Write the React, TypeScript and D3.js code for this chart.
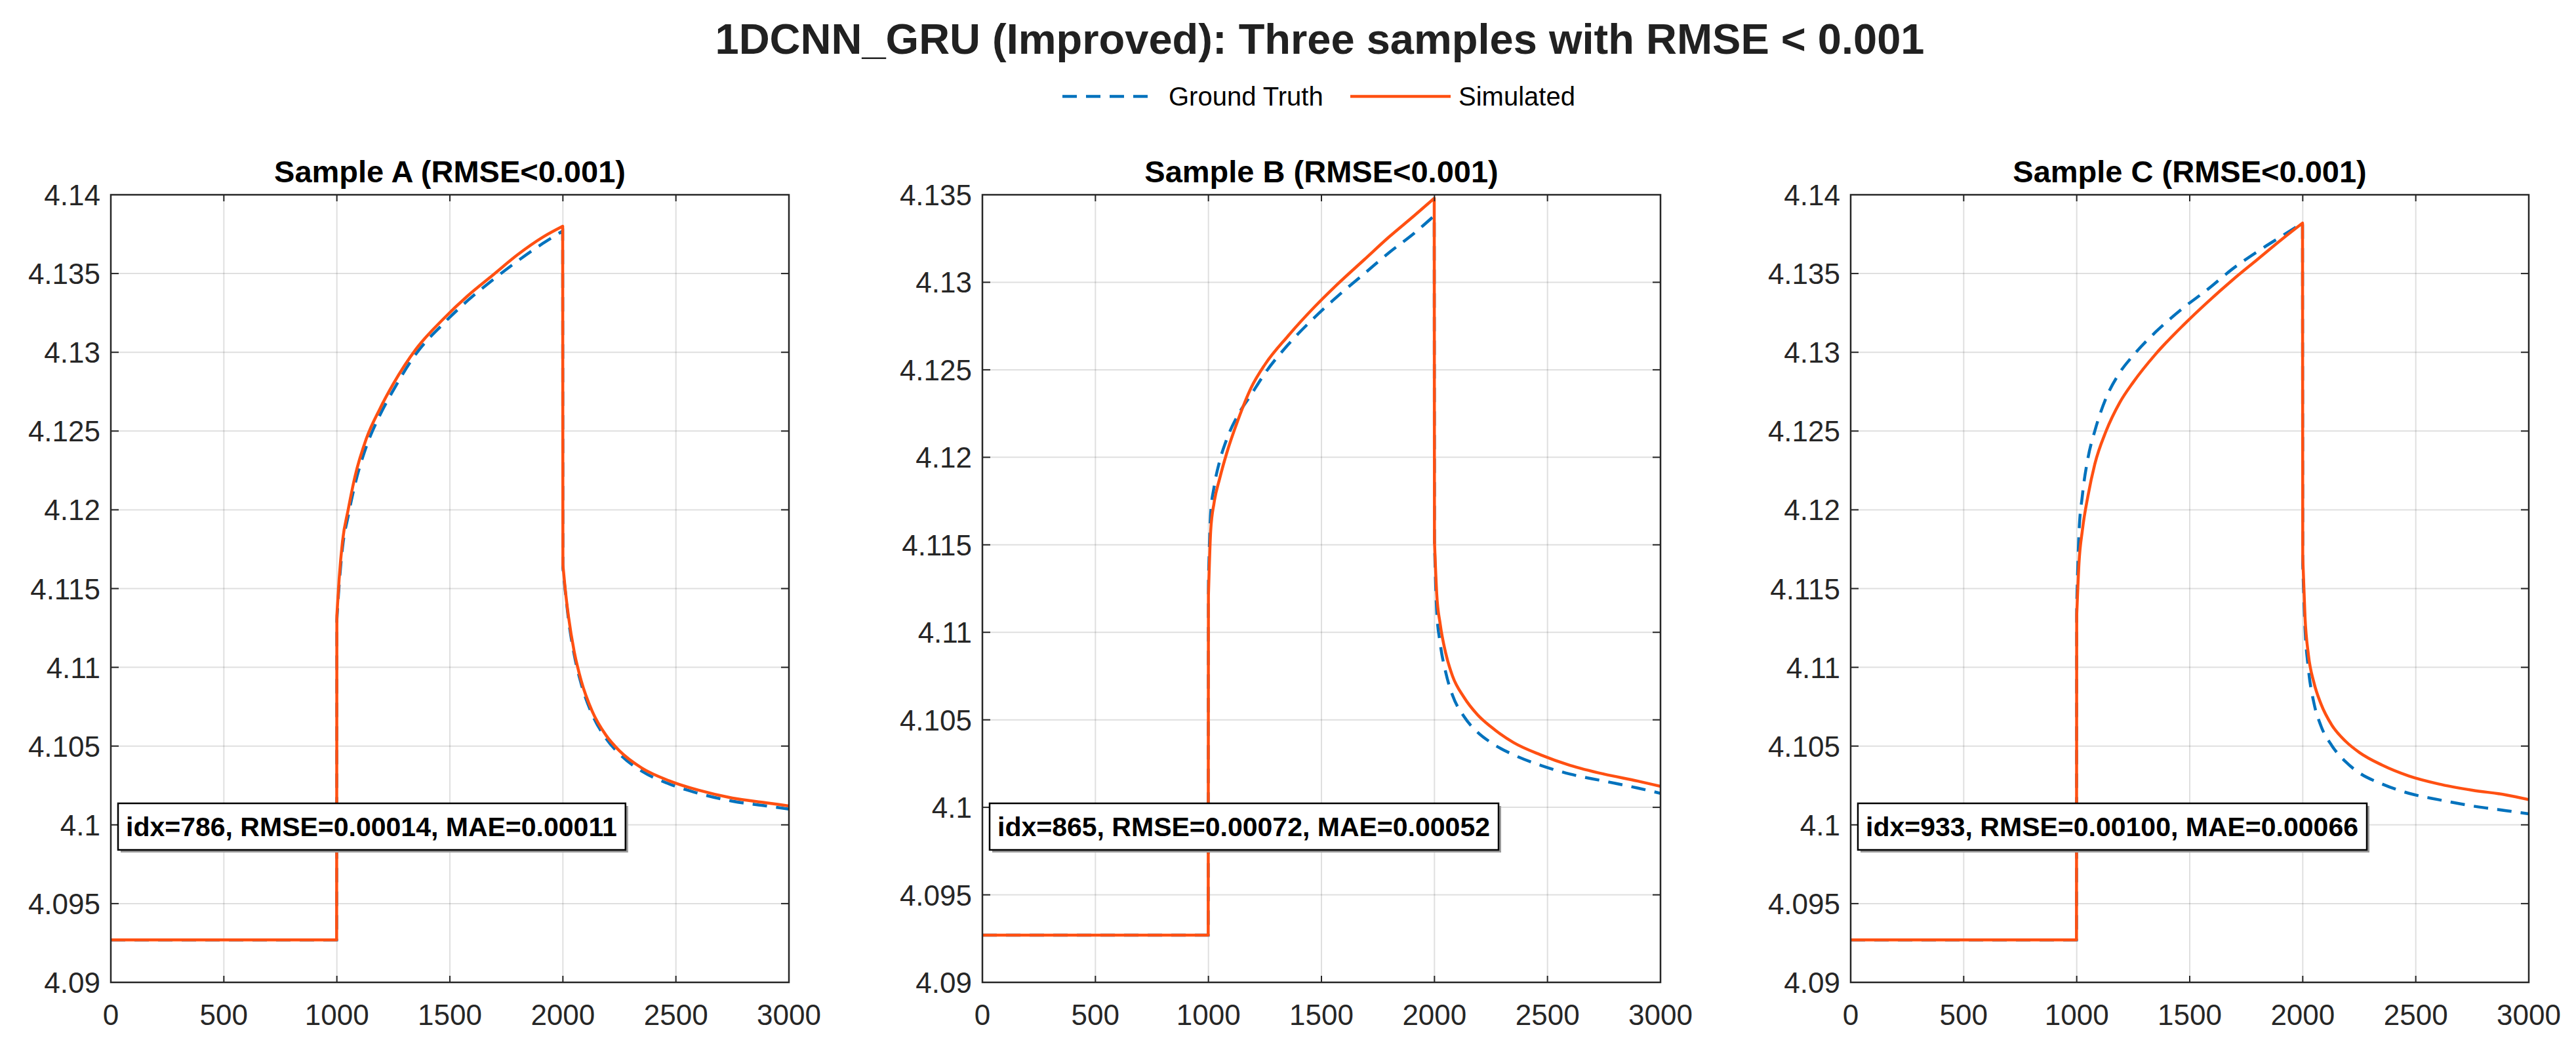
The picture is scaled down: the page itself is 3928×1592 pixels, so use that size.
import { useEffect, useRef } from 'react';
import * as d3 from 'd3';

// Sample index knots shared by every series
const knots = [0, 999, 1000, 1010, 1025, 1050, 1080, 1130, 1190, 1250, 1350, 1470, 1580, 1690, 1800, 1910, 1999,
    2000, 2010, 2025, 2050, 2080, 2130, 2190, 2250, 2350, 2470, 2600, 2750, 2900, 3000];
// current steps happen at these indices (the traces jump there)
const stepStarts = [1000, 2000];

const sampleATruth = [4.0927, 4.0927, 4.1130, 4.1152, 4.1176, 4.1196, 4.1216, 4.1240, 4.1260, 4.1276, 4.1299, 4.1318, 4.1333, 4.1346, 4.1358, 4.1369, 4.1377,
    4.1163, 4.1149, 4.1130, 4.1108, 4.1090, 4.1070, 4.1055, 4.1045, 4.1034, 4.1026, 4.1020, 4.1015, 4.1012, 4.1010];
const sampleASim = [4.0927, 4.0927, 4.1133, 4.1156, 4.1180, 4.1200, 4.1221, 4.1245, 4.1264, 4.1280, 4.1302, 4.1321, 4.1336, 4.1349, 4.1362, 4.1373, 4.1380,
    4.1165, 4.1150, 4.1132, 4.1110, 4.1092, 4.1072, 4.1057, 4.1047, 4.1036, 4.1028, 4.1022, 4.1017, 4.1014, 4.1012];

const sampleBTruth = [4.0927, 4.0927, 4.1130, 4.1168, 4.1183, 4.1198, 4.1210, 4.1224, 4.1236, 4.1248, 4.1264, 4.1280, 4.1293, 4.1305, 4.1317, 4.1328, 4.1338,
    4.1151, 4.1112, 4.1094, 4.1077, 4.1064, 4.1052, 4.1043, 4.1037, 4.1030, 4.1024, 4.1019, 4.1015, 4.1011, 4.1008];
const sampleBSim = [4.0927, 4.0927, 4.1121, 4.1158, 4.1174, 4.1188, 4.1202, 4.1221, 4.1240, 4.1253, 4.1269, 4.1286, 4.1300, 4.1313, 4.1326, 4.1338, 4.1348,
    4.1152, 4.1122, 4.1105, 4.1088, 4.1075, 4.1063, 4.1053, 4.1046, 4.1037, 4.1030, 4.1024, 4.1019, 4.1015, 4.1012];

const sampleCTruth = [4.0927, 4.0927, 4.1140, 4.1185, 4.1209, 4.1233, 4.1250, 4.1271, 4.1287, 4.1298, 4.1313, 4.1328, 4.1340, 4.1353, 4.1364, 4.1374, 4.1382,
    4.1165, 4.1125, 4.1099, 4.1077, 4.1063, 4.1050, 4.1040, 4.1033, 4.1026, 4.1020, 4.1016, 4.1012, 4.1009, 4.1007];
const sampleCSim = [4.0927, 4.0927, 4.1133, 4.1166, 4.1187, 4.1209, 4.1229, 4.1250, 4.1268, 4.1281, 4.1299, 4.1317, 4.1332, 4.1346, 4.1359, 4.1372, 4.1382,
    4.1170, 4.1132, 4.1108, 4.1090, 4.1077, 4.1063, 4.1053, 4.1046, 4.1038, 4.1031, 4.1026, 4.1022, 4.1019, 4.1016];

const panelTitles = ['Sample A (RMSE<0.001)', 'Sample B (RMSE<0.001)', 'Sample C (RMSE<0.001)'];
const panelNotes = ['idx=786, RMSE=0.00014, MAE=0.00011', 'idx=865, RMSE=0.00072, MAE=0.00052', 'idx=933, RMSE=0.00100, MAE=0.00066'];
const yMax = [4.14, 4.135, 4.14];
const yMin = 4.09;
const xTicks = [0, 500, 1000, 1500, 2000, 2500, 3000];
const truthSeries = [sampleATruth, sampleBTruth, sampleCTruth];
const simSeries = [sampleASim, sampleBSim, sampleCSim];
const legendLabels = ['Ground Truth', 'Simulated'];

const W = 3928;
const H = 1592;
const FONT = '"Liberation Sans", Arial, Helvetica, sans-serif';
const AXIS = '#262626';
const BLUE = '#0072BD';
const ORANGE = '#FF5012';

export default function App() {
    const svgRef = useRef<SVGSVGElement>(null);

    useEffect(() => {
        if (!svgRef.current) return;
        const svg = d3.select(svgRef.current);
        svg.selectAll('*').remove();

        svg.append('rect').attr('width', W).attr('height', H).attr('fill', '#fff');

        const lefts = [169, 1498, 2822];
        const pw = 1034;
        const top = 297;
        const bottom = 1498;

        // Super title
        svg.append('text')
            .attr('x', (lefts[0] + lefts[2] + pw) / 2)
            .attr('y', 82)
            .attr('text-anchor', 'middle')
            .attr('font-family', FONT)
            .attr('font-size', 65)
            .attr('font-weight', 700)
            .attr('fill', '#212121')
            .text('1DCNN_GRU (Improved): Three samples with RMSE < 0.001');

        // Legend
        const leg = svg.append('g');
        leg.append('line').attr('x1', 1620).attr('x2', 1760).attr('y1', 147).attr('y2', 147)
            .attr('stroke', BLUE).attr('stroke-width', 4.5).attr('stroke-dasharray', '22 14');
        leg.append('text').attr('x', 1782).attr('y', 147).attr('dy', '0.35em')
            .attr('font-family', FONT).attr('font-size', 40).attr('fill', '#000').text(legendLabels[0]);
        leg.append('line').attr('x1', 2059).attr('x2', 2212).attr('y1', 147).attr('y2', 147)
            .attr('stroke', ORANGE).attr('stroke-width', 4.5);
        leg.append('text').attr('x', 2224).attr('y', 147).attr('dy', '0.35em')
            .attr('font-family', FONT).attr('font-size', 40).attr('fill', '#000').text(legendLabels[1]);

        lefts.forEach((left, i) => {
            const x = d3.scaleLinear().domain([0, 3000]).range([left, left + pw]);
            const y = d3.scaleLinear().domain([yMin, yMax[i]]).range([bottom, top]);
            const yTicks = d3.range(0, Math.round((yMax[i] - yMin) / 0.005) + 1).map(k => +(yMin + k * 0.005).toFixed(3));
            const fmt = d3.format('.3~f');
            const g = svg.append('g');

            // Grid
            g.selectAll('.gx').data(xTicks).join('line')
                .attr('x1', d => x(d)).attr('x2', d => x(d)).attr('y1', top).attr('y2', bottom)
                .attr('stroke', AXIS).attr('stroke-opacity', 0.15).attr('stroke-width', 2);
            g.selectAll('.gy').data(yTicks).join('line')
                .attr('y1', d => y(d)).attr('y2', d => y(d)).attr('x1', left).attr('x2', left + pw)
                .attr('stroke', AXIS).attr('stroke-opacity', 0.15).attr('stroke-width', 2);

            // Clip
            const clipId = `clip-${i}`;
            svg.append('defs').append('clipPath').attr('id', clipId)
                .append('rect').attr('x', left).attr('y', top - 3).attr('width', pw).attr('height', bottom - top + 3);

            const line = d3.line<[number, number]>()
                .x(d => x(d[0]))
                .y(d => y(d[1]))
                .curve(d3.curveMonotoneX);

            // smooth inside each segment, straight vertical jumps between them
            const tracePath = (vals: number[]) => {
                const pts: [number, number][] = knots.map((k, j) => [k, vals[j]]);
                const segs: [number, number][][] = [[]];
                pts.forEach(p => {
                    if (stepStarts.includes(p[0])) segs.push([]);
                    segs[segs.length - 1].push(p);
                });
                return segs.map((s, j) => {
                    const d = line(s)!;
                    return j === 0 ? d : 'L' + d.slice(1);
                }).join('');
            };

            g.append('path').attr('d', tracePath(truthSeries[i]))
                .attr('clip-path', `url(#${clipId})`)
                .attr('fill', 'none').attr('stroke', BLUE).attr('stroke-width', 4.5)
                .attr('stroke-dasharray', '22 14');
            g.append('path').attr('d', tracePath(simSeries[i]))
                .attr('clip-path', `url(#${clipId})`)
                .attr('fill', 'none').attr('stroke', ORANGE).attr('stroke-width', 4.5)
                .attr('stroke-linejoin', 'round');

            // Ticks (inward, both sides)
            xTicks.forEach(t => {
                g.append('line').attr('x1', x(t)).attr('x2', x(t)).attr('y1', bottom).attr('y2', bottom - 10)
                    .attr('stroke', AXIS).attr('stroke-width', 2);
                g.append('line').attr('x1', x(t)).attr('x2', x(t)).attr('y1', top).attr('y2', top + 10)
                    .attr('stroke', AXIS).attr('stroke-width', 2);
                g.append('text').attr('x', x(t)).attr('y', 1563)
                    .attr('text-anchor', 'middle').attr('font-family', FONT).attr('font-size', 44)
                    .attr('fill', AXIS).text(String(t));
            });
            yTicks.forEach(t => {
                g.append('line').attr('x1', left).attr('x2', left + 12).attr('y1', y(t)).attr('y2', y(t))
                    .attr('stroke', AXIS).attr('stroke-width', 2);
                g.append('line').attr('x1', left + pw).attr('x2', left + pw - 12).attr('y1', y(t)).attr('y2', y(t))
                    .attr('stroke', AXIS).attr('stroke-width', 2);
                g.append('text').attr('x', left - 16).attr('y', y(t) + 16)
                    .attr('text-anchor', 'end').attr('font-family', FONT).attr('font-size', 44)
                    .attr('fill', AXIS).text(fmt(t));
            });

            // Box
            g.append('rect').attr('x', left).attr('y', top).attr('width', pw).attr('height', bottom - top)
                .attr('fill', 'none').attr('stroke', AXIS).attr('stroke-width', 2.5);

            // Panel title
            g.append('text').attr('x', left + pw / 2).attr('y', 278)
                .attr('text-anchor', 'middle').attr('font-family', FONT).attr('font-size', 47)
                .attr('font-weight', 700).attr('fill', '#000').text(panelTitles[i]);

            // Annotation box
            const note = g.append('g');
            const bx = left + 11;
            const by = 1225;
            const bh = 71;
            const shadow = note.append('rect');
            const box = note.append('rect');
            const txt = note.append('text').attr('x', bx + 12).attr('y', by + bh / 2 + 14)
                .attr('font-family', FONT).attr('font-size', 41).attr('font-weight', 700)
                .attr('fill', '#000').text(panelNotes[i]);
            const tw = (txt.node() as SVGTextElement).getComputedTextLength();
            const bw = tw + 25;
            shadow.attr('x', bx + 4).attr('y', by + 4).attr('width', bw).attr('height', bh)
                .attr('fill', '#9a9a9a');
            box.attr('x', bx).attr('y', by).attr('width', bw).attr('height', bh)
                .attr('fill', '#fff').attr('stroke', '#000').attr('stroke-width', 2.5);
        });
    }, []);

    return (
        <svg
            ref={svgRef}
            width={W}
            height={H}
            style={{ position: 'absolute', left: 0, top: 0, display: 'block' }}
        />
    );
}
